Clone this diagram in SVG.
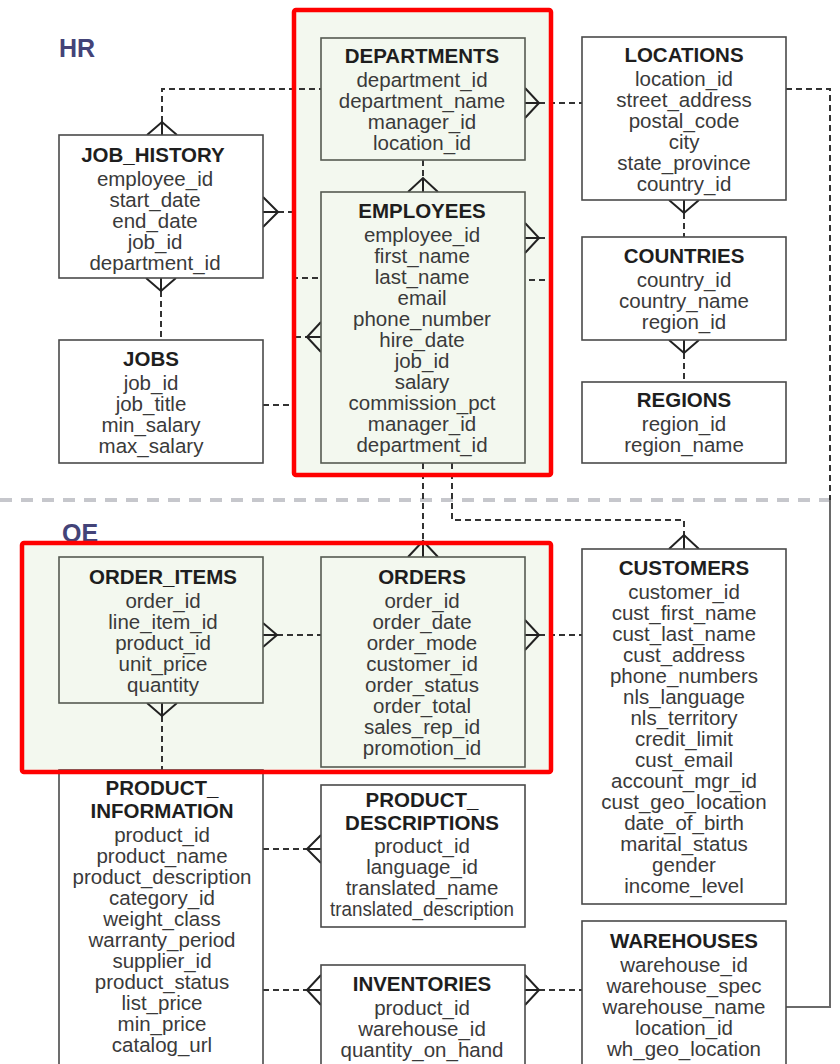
<svg xmlns="http://www.w3.org/2000/svg" width="840" height="1064" viewBox="0 0 840 1064">
<style>
.bg{fill:#ffffff}
.zone{fill:#f3f8ef;stroke:none}
.zb{fill:none;stroke:#ff0000;stroke-width:4.5;rx:2}
.box{fill:#ffffff;stroke:#4a4a4a;stroke-width:1.6}
.boxg{fill:#f3f8ef;stroke:#555a52;stroke-width:1.6}
.t{font-family:"Liberation Sans",Arial,Helvetica,sans-serif;font-size:20.5px;fill:#3a3a3a;text-anchor:middle}
.h{font-family:"Liberation Sans",Arial,Helvetica,sans-serif;font-size:20.5px;font-weight:bold;fill:#1e1e1e;text-anchor:middle}
.lab{font-family:"Liberation Sans",Arial,Helvetica,sans-serif;font-size:25px;font-weight:bold;fill:#434378}
.c{fill:none;stroke:#333333;stroke-width:2;stroke-dasharray:6 4}
.s{fill:none;stroke:#6a6a6a;stroke-width:2}
.cf{fill:none;stroke:#222222;stroke-width:2}
.sep{fill:none;stroke:#c6c7cc;stroke-width:4;stroke-dasharray:12 9}
</style>
<rect class="bg" x="0" y="0" width="840" height="1064"/>
<text class="lab" x="59" y="57">HR</text>
<text class="lab" x="62" y="542">OE</text>
<rect class="zone" x="294" y="10" width="257" height="465"/>
<rect class="zone" x="22" y="543" width="529" height="229"/>
<line class="sep" x1="0" y1="500" x2="840" y2="500"/>
<g id="connectors">
<path class="c" d="M162,122 V89 H321"/>
<path class="c" d="M278,212 H293 V278 H321"/>
<path class="c" d="M161,291 V340"/>
<path class="c" d="M263,405 H293 V337 H307"/>
<path class="c" d="M423,160 V178"/>
<path class="c" d="M539,238 H551 V280 H525"/>
<path class="c" d="M539,103 H582"/>
<path class="c" d="M684,213 V237"/>
<path class="c" d="M684,353 V382"/>
<path class="c" d="M786,89 H830 V500"/>
<path class="s" d="M830,500 V1007 H786"/>
<path class="c" d="M423,463 V541"/>
<path class="c" d="M452,463 V520 H684 V535"/>
<path class="c" d="M277,635 H321"/>
<path class="c" d="M539,635 H582"/>
<path class="c" d="M162,716 V773"/>
<path class="c" d="M263,849 H307"/>
<path class="c" d="M263,990 H307"/>
<path class="c" d="M539,990 H582"/>
<path class="cf" d="M147,135 L162,122 L177,135 M162,122 V135"/>
<path class="cf" d="M263,197 L278,212 L263,227 M263,212 H278"/>
<path class="cf" d="M146,278 L161,291 L176,278 M161,278 V291"/>
<path class="cf" d="M408,192 L423,178 L438,192 M423,178 V192"/>
<path class="cf" d="M321,322 L307,337 L321,352 M307,337 H321"/>
<path class="cf" d="M525,223 L539,238 L525,253 M525,238 H539"/>
<path class="cf" d="M525,88 L539,103 L525,118 M525,103 H539"/>
<path class="cf" d="M669,200 L684,213 L699,200 M684,200 V213"/>
<path class="cf" d="M669,340 L684,353 L699,340 M684,340 V353"/>
<path class="cf" d="M408,557 L423,541 L438,557 M423,541 V557"/>
<path class="cf" d="M669,549 L684,535 L699,549 M684,535 V549"/>
<path class="cf" d="M263,623 L277,635 L263,647 M263,635 H277"/>
<path class="cf" d="M525,620 L539,635 L525,650 M525,635 H539"/>
<path class="cf" d="M147,703 L162,716 L177,703 M162,703 V716"/>
<path class="cf" d="M321,835 L307,849 L321,863 M307,849 H321"/>
<path class="cf" d="M321,975 L307,990 L321,1005 M307,990 H321"/>
<path class="cf" d="M525,975 L539,990 L525,1005 M525,990 H539"/>
</g>
<g id="job_history">
<rect class="box" x="59" y="135" width="204" height="143"/>
<text class="h" x="153" y="162">JOB_HISTORY</text>
<text class="t" x="155" y="186">employee_id</text>
<text class="t" x="155" y="207">start_date</text>
<text class="t" x="155" y="228">end_date</text>
<text class="t" x="155" y="249">job_id</text>
<text class="t" x="155" y="270">department_id</text>
</g>
<g id="jobs">
<rect class="box" x="59" y="340" width="204" height="123"/>
<text class="h" x="151" y="366">JOBS</text>
<text class="t" x="151" y="390">job_id</text>
<text class="t" x="151" y="411">job_title</text>
<text class="t" x="151" y="432">min_salary</text>
<text class="t" x="151" y="453">max_salary</text>
</g>
<g id="departments">
<rect class="boxg" x="321" y="38" width="204" height="122"/>
<text class="h" x="422" y="63">DEPARTMENTS</text>
<text class="t" x="422" y="87">department_id</text>
<text class="t" x="422" y="108">department_name</text>
<text class="t" x="422" y="129">manager_id</text>
<text class="t" x="422" y="150">location_id</text>
</g>
<g id="employees">
<rect class="boxg" x="321" y="192" width="204" height="271"/>
<text class="h" x="422" y="218">EMPLOYEES</text>
<text class="t" x="422" y="242">employee_id</text>
<text class="t" x="422" y="263">first_name</text>
<text class="t" x="422" y="284">last_name</text>
<text class="t" x="422" y="305">email</text>
<text class="t" x="422" y="326">phone_number</text>
<text class="t" x="422" y="347">hire_date</text>
<text class="t" x="422" y="368">job_id</text>
<text class="t" x="422" y="389">salary</text>
<text class="t" x="422" y="410">commission_pct</text>
<text class="t" x="422" y="431">manager_id</text>
<text class="t" x="422" y="452">department_id</text>
</g>
<g id="locations">
<rect class="box" x="582" y="37" width="204" height="163"/>
<text class="h" x="684" y="62">LOCATIONS</text>
<text class="t" x="684" y="86">location_id</text>
<text class="t" x="684" y="107">street_address</text>
<text class="t" x="684" y="128">postal_code</text>
<text class="t" x="684" y="149">city</text>
<text class="t" x="684" y="170">state_province</text>
<text class="t" x="684" y="191">country_id</text>
</g>
<g id="countries">
<rect class="box" x="582" y="237" width="204" height="103"/>
<text class="h" x="684" y="263">COUNTRIES</text>
<text class="t" x="684" y="287">country_id</text>
<text class="t" x="684" y="308">country_name</text>
<text class="t" x="684" y="329">region_id</text>
</g>
<g id="regions">
<rect class="box" x="582" y="382" width="204" height="81"/>
<text class="h" x="684" y="407">REGIONS</text>
<text class="t" x="684" y="431">region_id</text>
<text class="t" x="684" y="452">region_name</text>
</g>
<g id="order_items">
<rect class="boxg" x="59" y="557" width="204" height="146"/>
<text class="h" x="163" y="584">ORDER_ITEMS</text>
<text class="t" x="163" y="608">order_id</text>
<text class="t" x="163" y="629">line_item_id</text>
<text class="t" x="163" y="650">product_id</text>
<text class="t" x="163" y="671">unit_price</text>
<text class="t" x="163" y="692">quantity</text>
</g>
<g id="orders">
<rect class="boxg" x="321" y="557" width="204" height="210"/>
<text class="h" x="422" y="584">ORDERS</text>
<text class="t" x="422" y="608">order_id</text>
<text class="t" x="422" y="629">order_date</text>
<text class="t" x="422" y="650">order_mode</text>
<text class="t" x="422" y="671">customer_id</text>
<text class="t" x="422" y="692">order_status</text>
<text class="t" x="422" y="713">order_total</text>
<text class="t" x="422" y="734">sales_rep_id</text>
<text class="t" x="422" y="755">promotion_id</text>
</g>
<g id="customers">
<rect class="box" x="582" y="549" width="204" height="355"/>
<text class="h" x="684" y="575">CUSTOMERS</text>
<text class="t" x="684" y="599">customer_id</text>
<text class="t" x="684" y="620">cust_first_name</text>
<text class="t" x="684" y="641">cust_last_name</text>
<text class="t" x="684" y="662">cust_address</text>
<text class="t" x="684" y="683">phone_numbers</text>
<text class="t" x="684" y="704">nls_language</text>
<text class="t" x="684" y="725">nls_territory</text>
<text class="t" x="684" y="746">credit_limit</text>
<text class="t" x="684" y="767">cust_email</text>
<text class="t" x="684" y="788">account_mgr_id</text>
<text class="t" x="684" y="809">cust_geo_location</text>
<text class="t" x="684" y="830">date_of_birth</text>
<text class="t" x="684" y="851">marital_status</text>
<text class="t" x="684" y="872">gender</text>
<text class="t" x="684" y="893">income_level</text>
</g>
<g id="product_information">
<rect class="box" x="59" y="770" width="204" height="300"/>
<text class="h" x="162" y="795">PRODUCT_</text>
<text class="h" x="162" y="818">INFORMATION</text>
<text class="t" x="162" y="842">product_id</text>
<text class="t" x="162" y="863">product_name</text>
<text class="t" x="162" y="884">product_description</text>
<text class="t" x="162" y="905">category_id</text>
<text class="t" x="162" y="926">weight_class</text>
<text class="t" x="162" y="947">warranty_period</text>
<text class="t" x="162" y="968">supplier_id</text>
<text class="t" x="162" y="989">product_status</text>
<text class="t" x="162" y="1010">list_price</text>
<text class="t" x="162" y="1031">min_price</text>
<text class="t" x="162" y="1052">catalog_url</text>
</g>
<g id="product_descriptions">
<rect class="box" x="321" y="785" width="204" height="142"/>
<text class="h" x="422" y="807">PRODUCT_</text>
<text class="h" x="422" y="830">DESCRIPTIONS</text>
<text class="t" x="422" y="853">product_id</text>
<text class="t" x="422" y="874">language_id</text>
<text class="t" x="422" y="895">translated_name</text>
<text class="t" x="422" y="916" textLength="184" lengthAdjust="spacingAndGlyphs">translated_description</text>
</g>
<g id="inventories">
<rect class="box" x="321" y="965" width="204" height="110"/>
<text class="h" x="422" y="991">INVENTORIES</text>
<text class="t" x="422" y="1015">product_id</text>
<text class="t" x="422" y="1036">warehouse_id</text>
<text class="t" x="422" y="1057">quantity_on_hand</text>
</g>
<g id="warehouses">
<rect class="box" x="582" y="921" width="204" height="150"/>
<text class="h" x="684" y="948">WAREHOUSES</text>
<text class="t" x="684" y="972">warehouse_id</text>
<text class="t" x="684" y="993">warehouse_spec</text>
<text class="t" x="684" y="1014">warehouse_name</text>
<text class="t" x="684" y="1035">location_id</text>
<text class="t" x="684" y="1056">wh_geo_location</text>
</g>
<rect class="zb" x="294" y="10" width="257" height="465"/>
<rect class="zb" x="22" y="543" width="529" height="229"/>
</svg>
